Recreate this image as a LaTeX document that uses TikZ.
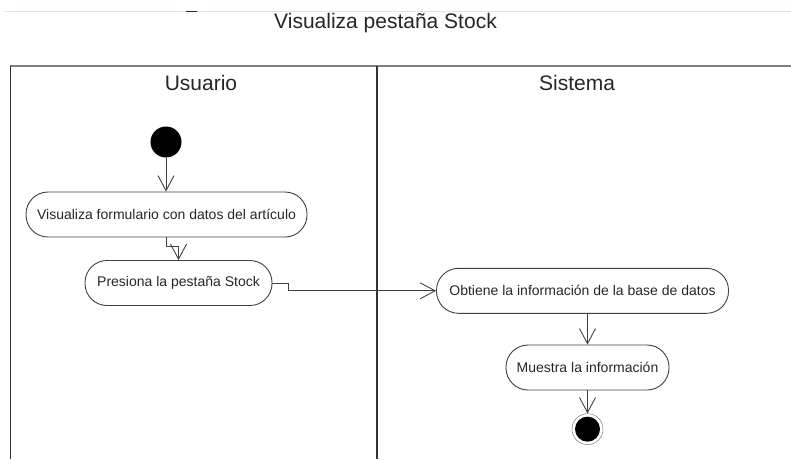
\documentclass[tikz,border=0pt]{standalone}
\usepackage{fontspec}
\setmainfont{Liberation Sans}
\usetikzlibrary{positioning, arrows.meta}

\begin{document}
\begin{tikzpicture}[
      x=1pt, y=-1pt,
      lane/.style={draw=black!80, line width=1.2pt},
      actividad/.style={rectangle, draw=black!75, line width=0.9pt, rounded corners=22pt,
        align=center, minimum height=45pt, inner sep=0pt, text=black!85,
        font=\fontsize{14}{16}\selectfont},
      inicial/.style={circle, fill=black, minimum size=31pt, inner sep=0pt},
      final/.style={circle, draw=black!60, fill=white, minimum size=31pt, inner sep=0pt,
        path picture={\fill[black] (path picture bounding box.center) circle (12.5pt);}},
      arrow/.style={-{Straight Barb[length=15pt, width=16pt, line width=0.9pt]},
        draw=black!75, line width=0.9pt}
    ]
    \useasboundingbox (0,0) rectangle (791,459);
    % borde superior de la captura
    \draw[blue!12, line width=1pt] (5,11) -- (791,11);
    \draw[black!85, line width=1pt] (186,11) -- (197,11);

    % titulo y calles
    \node[anchor=base, text=black!85, font=\fontsize{21}{24}\selectfont] (titulo) at (385.5,28) {Visualiza pestaña Stock};
    \draw[black!50, line width=2pt] (10,66) -- (791,66);
    \draw[lane] (10.7,66) -- (10.7,459);
    \draw[lane] (377,66) -- (377,459);
    \node[anchor=base, text=black!85, font=\fontsize{21}{24}\selectfont] (usuario) at (201,90) {Usuario};
    \node[anchor=base, text=black!85, font=\fontsize{21}{24}\selectfont] (sistema) at (577,90) {Sistema};

    % actividades
    \node[inicial] (inicio) at (166,142) {};
    \node[actividad, minimum width=281pt] (visualiza) at (166.5,214.5) {Visualiza formulario con datos del artículo};
    \node[actividad, minimum width=187pt] (presiona) at (178.5,283) {Presiona la pestaña Stock};
    \node[actividad, minimum width=292pt] (obtiene) at (582.5,290.8) {Obtiene la información de la base de datos};
    \node[actividad, minimum width=163pt] (muestra) at (587.5,367.5) {Muestra la información};
    \node[final, below=23pt of muestra] (fin) {};

    \draw[arrow] (inicio) -- (inicio |- visualiza.north);
    \draw[arrow] (visualiza.south) -- ++(0,9) -| (presiona.north);
    \draw[arrow] (presiona.east) -- ++(16,0) |- (obtiene.west);
    \draw[arrow] (obtiene.south -| muestra.north) -- (muestra.north);
    \draw[arrow] (muestra) -- (fin);
  \end{tikzpicture}
\end{document}
